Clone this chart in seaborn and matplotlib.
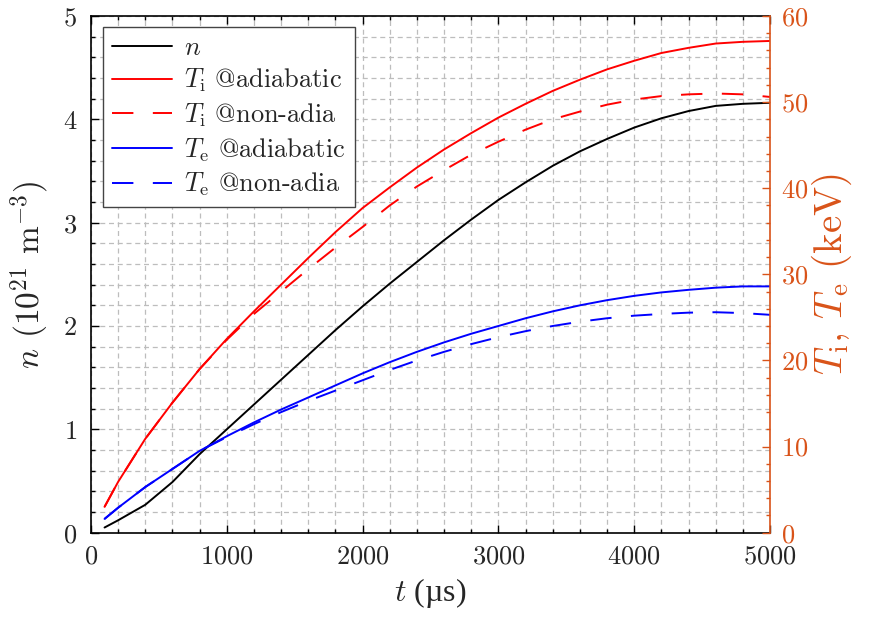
import matplotlib
matplotlib.use("Agg")
import numpy as np
import pandas as pd
import matplotlib.pyplot as plt
import seaborn as sns
from matplotlib.ticker import MultipleLocator

# ── data ──
t_us = [100, 200, 400, 600, 800, 1000, 1200, 1400, 1600, 1800, 2000, 2200, 2400,
        2600, 2800, 3000, 3200, 3400, 3600, 3800, 4000, 4200, 4400, 4600, 4800, 5000]
n_dens = [0.05, 0.12, 0.27, 0.49, 0.76, 1.00, 1.24, 1.48, 1.72, 1.96, 2.19, 2.41, 2.62,
          2.83, 3.03, 3.22, 3.39, 3.55, 3.69, 3.81, 3.92, 4.01, 4.08, 4.13, 4.15, 4.16]
Ti_adia = [3.0, 5.9, 10.9, 15.1, 19.0, 22.5, 25.7, 28.8, 31.9, 34.9, 37.7, 40.1, 42.4,
           44.5, 46.4, 48.2, 49.8, 51.3, 52.6, 53.8, 54.8, 55.7, 56.3, 56.8, 57.0, 57.1]
Ti_nonadia = [3.0, 5.9, 10.9, 15.1, 19.0, 22.4, 25.4, 28.0, 30.6, 33.1, 35.5, 38.0, 40.2,
              42.1, 43.9, 45.4, 46.8, 48.0, 48.9, 49.7, 50.3, 50.7, 50.9, 51.0, 50.9, 50.6]
Te_adia = [1.6, 2.9, 5.3, 7.4, 9.5, 11.2, 12.8, 14.3, 15.7, 17.1, 18.5, 19.8, 21.0,
           22.1, 23.1, 24.0, 24.9, 25.7, 26.4, 27.0, 27.5, 27.9, 28.2, 28.45, 28.6, 28.6]
Te_nonadia = [1.6, 2.9, 5.3, 7.4, 9.5, 11.1, 12.6, 14.0, 15.3, 16.5, 17.7, 18.9, 20.0,
              21.0, 21.9, 22.7, 23.4, 24.0, 24.5, 24.9, 25.2, 25.4, 25.55, 25.6, 25.5, 25.3]

SERIES = [r"$T_\mathrm{i}$ @adiabatic", r"$T_\mathrm{i}$ @non-adia",
          r"$T_\mathrm{e}$ @adiabatic", r"$T_\mathrm{e}$ @non-adia"]
COLORS = {SERIES[0]: "#ff0000", SERIES[1]: "#ff0000",
          SERIES[2]: "#0000ff", SERIES[3]: "#0000ff"}
DASHES = {SERIES[0]: "", SERIES[1]: (11, 10), SERIES[2]: "", SERIES[3]: (11, 10)}
ORANGE = "#D95319"

df_n = pd.DataFrame({"t": t_us, "n": n_dens})
df_T = pd.DataFrame({
    "t": t_us * 4,
    "T": Ti_adia + Ti_nonadia + Te_adia + Te_nonadia,
    "series": [s for s in SERIES for _ in t_us],
})

# ── style ──
sns.set_theme(style="ticks")
plt.rcParams["font.family"] = ["cmr10", "DejaVu Serif"]
plt.rcParams["mathtext.fontset"] = "cm"
plt.rcParams["axes.formatter.use_mathtext"] = True
plt.rcParams["axes.unicode_minus"] = False

fig = plt.figure(figsize=(8.78, 6.22), dpi=100)
ax = fig.add_axes([0.1036, 0.1436, 0.7734, 0.8307])
ax2 = ax.twinx()

sns.lineplot(data=df_n, x="t", y="n", color="black", lw=1.4, ax=ax, legend=False)
sns.lineplot(data=df_T, x="t", y="T", hue="series", style="series",
             hue_order=SERIES, style_order=SERIES, palette=COLORS, dashes=DASHES,
             lw=1.4, ax=ax2, legend=False)

# ── axes ──
ax.set_xlim(0, 5000)
ax.set_ylim(0, 5)
ax2.set_ylim(0, 60)
ax.xaxis.set_major_locator(MultipleLocator(1000))
ax.xaxis.set_minor_locator(MultipleLocator(200))
ax.yaxis.set_major_locator(MultipleLocator(1))
ax.yaxis.set_minor_locator(MultipleLocator(0.2))
ax2.yaxis.set_major_locator(MultipleLocator(10))
ax2.yaxis.set_minor_locator(MultipleLocator(2))

ax.grid(which="both", linestyle=(0, (4, 3)), color="#bdbdbd", linewidth=0.9)
ax.set_axisbelow(True)

ax.tick_params(which="both", direction="in", top=True, right=False,
               labelsize=19, width=1.0, color="black")
ax.tick_params(which="major", length=6)
ax.tick_params(which="minor", length=3)
ax.tick_params(axis="x", pad=9)
ax.tick_params(axis="y", pad=10)
ax2.tick_params(axis="y", which="both", direction="in", colors=ORANGE,
                labelsize=19, width=1.0, pad=8)
ax2.tick_params(axis="y", which="major", length=6)
ax2.tick_params(axis="y", which="minor", length=3)

for s in ["left", "top", "bottom"]:
    ax.spines[s].set_linewidth(1.2)
    ax.spines[s].set_color("black")
ax.spines["right"].set_visible(False)
for s in ["left", "top", "bottom"]:
    ax2.spines[s].set_visible(False)
ax2.spines["right"].set_color(ORANGE)
ax2.spines["right"].set_linewidth(1.2)

# cmr10 has no usable micro sign, so the unit part of this label uses a serif fallback
ax.set_xlabel("$t$ (\u00b5s)", fontsize=23, labelpad=5, fontfamily="Liberation Serif")
ax.set_ylabel(r"$n$ (10$^{21}$ m$^{-3}$)", fontsize=24, labelpad=8)
ax2.set_ylabel(r"$T_\mathrm{i}$, $T_\mathrm{e}$ (keV)", fontsize=28, color=ORANGE, labelpad=1)

# ── legend (both axes) ──
handles = list(ax.get_lines()) + list(ax2.get_lines())
labels = [r"$n$"] + SERIES
leg = ax2.legend(handles, labels, loc="upper left", bbox_to_anchor=(0.017, 0.979),
                 borderaxespad=0, fontsize=19, handlelength=2.3, handletextpad=0.45,
                 labelspacing=0.27, borderpad=0.35,
                 fancybox=False, framealpha=1, edgecolor="#444444")
leg.get_frame().set_linewidth(1.0)

fig.savefig("out.png", dpi=100)
